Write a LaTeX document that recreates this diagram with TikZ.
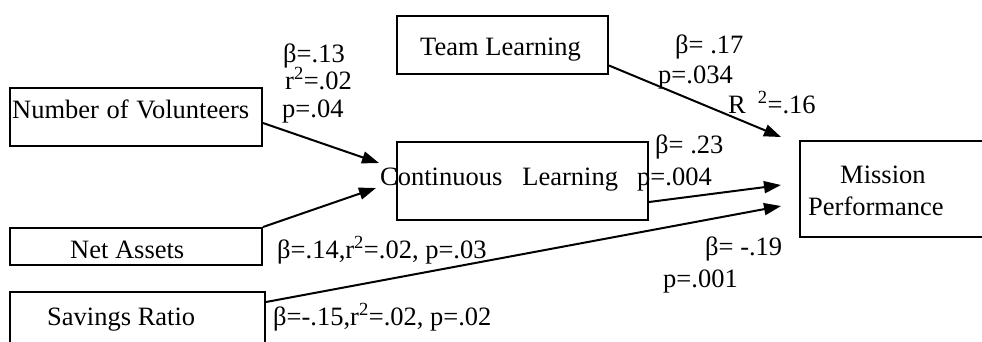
\documentclass[tikz,border=0pt]{standalone}
\usepackage{fontspec}
\setmainfont{Liberation Serif}
\usetikzlibrary{arrows.meta}
\begin{document}
\begin{tikzpicture}[x=1pt,y=-1pt,
  box/.style={draw, line width=2pt, inner sep=0pt},
  txt/.style={inner sep=0pt, anchor=base west, font=\fontsize{26.5}{30}\selectfont},
  link/.style={line width=2pt, -{Triangle[length=17pt,width=12pt]}}]
\useasboundingbox (0,0) rectangle (982,341);

% variable boxes
\node[box, minimum width=252pt, minimum height=58pt] (nov) at (136,116.5) {};
\node[box, minimum width=252pt, minimum height=37pt] (na)  at (136,246.5) {};
\node[box, minimum width=255pt, minimum height=52pt] (sr)  at (137.5,318) {};
\node[box, minimum width=211pt, minimum height=58pt] (tl)  at (502.5,44.5) {};
\node[box, minimum width=251pt, minimum height=78pt] (cl)  at (522.5,181) {};
\node[box, minimum width=190pt, minimum height=96pt] (mp)  at (895,189) {};

% box captions
\node[txt] (novt) at (12,118) {Number\hspace{1pt} of\hspace{1pt} Volunteers};
\node[txt] (nat)  at (70,258) {Net Assets};
\node[txt] (srt)  at (47,325) {Savings Ratio};
\node[txt] (tlt)  at (420,55) {Team Learning};
\node[txt] (clt)  at (380,185) {Continuous\hspace{20pt}Learning};
\node[txt] (mpt1) at (840,183) {Mission};
\node[txt] (mpt2) at (808,215) {Performance};

% path coefficients
\node[txt] (b1) at (283,62)  {β=.13};
\node[txt] (r1) at (285,89)  {r\textsuperscript{2}=.02};
\node[txt] (p1) at (282,117) {p=.04};
\node[txt] (b2) at (277,258) {β=.14,r\textsuperscript{2}=.02, p=.03};
\node[txt] (b3) at (273,325) {β=-.15,r\textsuperscript{2}=.02, p=.02};
\node[txt] (b4) at (675,53)  {β= .17};
\node[txt] (p4) at (658,83)  {p=.034};
\node[txt] (r4) at (728,113) {R\hspace{12pt}\textsuperscript{2}=.16};
\node[txt] (b5) at (655,153) {β= .23};
\node[txt] (p5) at (637,185) {p=.004};
\node[txt] (b6) at (705,255) {β= -.19};
\node[txt] (p6) at (663,287) {p=.001};

% paths
\draw[link] ([yshift=-6.5pt]nov.east) -- ([xshift=-17pt,yshift=18pt]cl.west);
\draw[link] (na.north east) -- ([xshift=-20pt,yshift=-7pt]cl.west);
\draw[link] ([yshift=-11pt]sr.north east) -- ([xshift=-18pt,yshift=-17pt]mp.west);
\draw[link] ([yshift=-21pt]tl.east) -- ([xshift=-18pt,yshift=52pt]mp.west);
\draw[link] ([yshift=-21pt]cl.east) -- ([xshift=-18pt,yshift=4pt]mp.west);
\end{tikzpicture}
\end{document}
